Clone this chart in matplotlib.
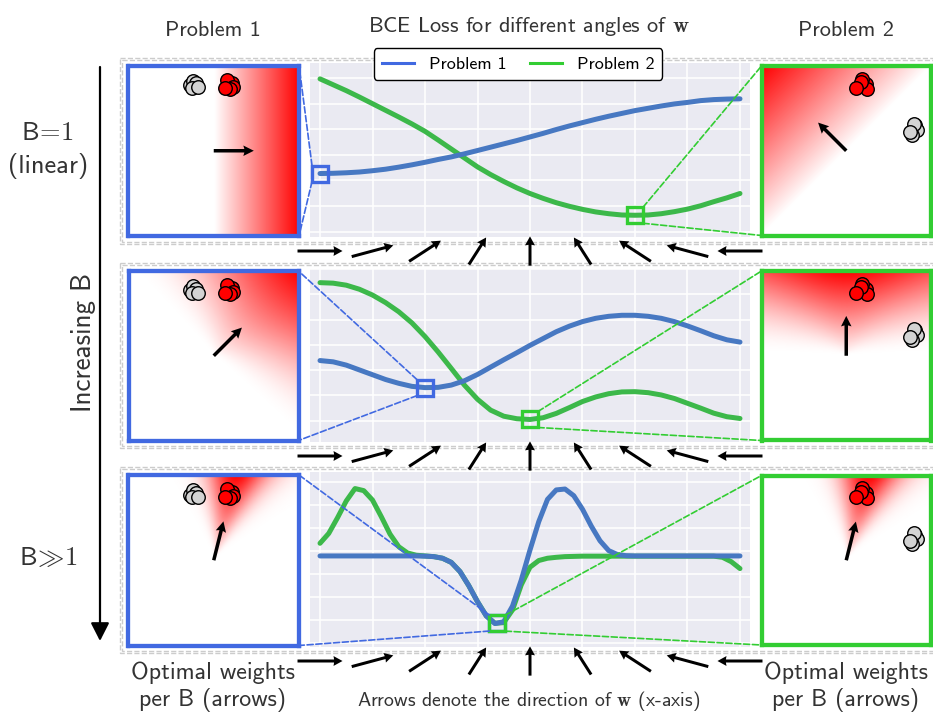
import numpy as np
import matplotlib.pyplot as plt
import matplotlib.transforms as mtransforms
from matplotlib.colors import LinearSegmentedColormap
from matplotlib.lines import Line2D
from matplotlib.patches import Rectangle, ConnectionPatch

plt.rcParams['font.family'] = 'cmss10'
plt.rcParams['mathtext.fontset'] = 'cm'
plt.rcParams['axes.unicode_minus'] = False

W, H = 933, 713

# ---- data ----
# x axis of the loss plots: angle of w in degrees (ticks = arrows below each plot)
tick_angles = [0, 22.5, 45, 67.5, 90, 112.5, 135, 157.5, 180]
angles_mid = np.linspace(0, 180, 33)
angles_fine = np.linspace(0, 180, 49)

# BCE loss (arbitrary units, one unit = one grid line)
loss_p1_b1 = [2.27, 2.28, 2.30, 2.33, 2.38, 2.44, 2.52, 2.61, 2.71, 2.82, 2.92,
              3.04, 3.17, 3.30, 3.43, 3.56, 3.70, 3.84, 3.99, 4.13, 4.26, 4.39,
              4.51, 4.62, 4.73, 4.82, 4.91, 4.99, 5.05, 5.12, 5.16, 5.18, 5.19]
loss_p2_b1 = [5.97, 5.74, 5.51, 5.26, 5.00, 4.74, 4.48, 4.21, 3.92, 3.58, 3.23,
              2.88, 2.53, 2.23, 1.96, 1.71, 1.49, 1.30, 1.13, 0.99, 0.87, 0.77,
              0.70, 0.65, 0.64, 0.65, 0.70, 0.78, 0.88, 1.01, 1.17, 1.32, 1.49]
loss_p1_b2 = [2.38, 2.33, 2.20, 2.01, 1.82, 1.63, 1.48, 1.36, 1.31, 1.32, 1.41,
              1.58, 1.83, 2.12, 2.41, 2.69, 2.98, 3.25, 3.52, 3.74, 3.92, 4.05,
              4.13, 4.17, 4.17, 4.13, 4.05, 3.92, 3.75, 3.56, 3.36, 3.20, 3.11]
loss_p2_b2 = [5.46, 5.44, 5.36, 5.20, 4.97, 4.67, 4.31, 3.87, 3.33, 2.72, 2.07,
              1.41, 0.85, 0.42, 0.18, 0.08, 0.05, 0.12, 0.29, 0.52, 0.76, 0.94,
              1.07, 1.14, 1.15, 1.11, 1.02, 0.88, 0.69, 0.50, 0.30, 0.16, 0.09]
loss_p1_bbig = [3.77, 3.77, 3.77, 3.77, 3.77, 3.77, 3.77, 3.77, 3.77, 3.77, 3.77,
                3.77, 3.76, 3.74, 3.67, 3.49, 3.09, 2.48, 1.78, 1.16, 0.83, 0.91,
                1.59, 2.72, 4.03, 5.26, 6.23, 6.64, 6.68, 6.39, 5.80, 5.07, 4.43,
                4.00, 3.83, 3.78, 3.77, 3.77, 3.77, 3.77, 3.77, 3.77, 3.77, 3.77,
                3.77, 3.77, 3.77, 3.77, 3.77]
loss_p2_bbig = [4.32, 4.75, 5.43, 6.16, 6.70, 6.61, 6.20, 5.48, 4.72, 4.17, 3.90,
                3.80, 3.77, 3.74, 3.67, 3.49, 3.09, 2.48, 1.78, 1.17, 0.84, 0.87,
                1.42, 2.51, 3.28, 3.57, 3.67, 3.71, 3.74, 3.75, 3.76, 3.76, 3.76,
                3.76, 3.76, 3.76, 3.76, 3.76, 3.76, 3.76, 3.76, 3.76, 3.76, 3.76,
                3.76, 3.76, 3.71, 3.52, 3.22]

B_values = [1, 2, 20]
w_angle_p1 = [0, 45, 76]
w_angle_p2 = [135, 90, 76]

# toy data points (same in every row)
p1_neg_x = [-0.28, -0.24, -0.21, -0.26, -0.18]
p1_neg_y = [0.77, 0.82, 0.79, 0.74, 0.745]
p1_pos_x = [0.21, 0.16, 0.23, 0.19, 0.13]
p1_pos_y = [0.80, 0.83, 0.75, 0.73, 0.74]
p2_pos_x = [0.23, 0.19, 0.25, 0.17, 0.12]
p2_pos_y = [0.79, 0.85, 0.73, 0.81, 0.745]
p2_neg_x = [0.81, 0.84, 0.78, 0.80, 0.75]
p2_neg_y = [0.30, 0.25, 0.19, 0.32, 0.225]

# ---- style ----
BLUE = '#4169E1'
GREEN = '#32CD32'
BLUE_LINE = '#4778c2'
GREEN_LINE = '#3cb84a'
TXT = '#333333'
white_red = LinearSegmentedColormap.from_list('white_red', ['white', 'red'])

rows_panel = [(65.5, 236), (271, 440.5), (475, 645.5)]
rows_mid = [(63, 237), (269, 442), (472, 647)]
rows_arrow = [251, 456, 661]
rows_frame = [(58, 244), (263, 448), (467, 653)]
ylims = [(-0.21, 6.59), (-0.84, 5.99), (-0.19, 7.42)]
yticks = [range(0, 7), range(0, 7), range(0, 8)]


def fig_rect(x0, y0, x1, y1):
    return [x0 / W, 1 - y1 / H, (x1 - x0) / W, (y1 - y0) / H]


def heat(angle, B):
    g = np.linspace(-1, 1, 301)
    X, Y = np.meshgrid(g, g)
    r = np.hypot(X, Y) + 1e-9
    t = np.deg2rad(angle)
    c = (X * np.cos(t) + Y * np.sin(t)) / r
    h = r * np.clip(c, 0, None) ** B
    return h / h.max()


def draw_panel(ax, angle, B, color, neg, pos):
    ax.imshow(heat(angle, B), cmap=white_red, origin='lower', extent=(-1, 1, -1, 1),
              vmin=0, vmax=1, interpolation='bilinear')
    ax.scatter(neg[0], neg[1], s=95, c='lightgray', edgecolors='k', linewidths=1, zorder=3)
    ax.scatter(pos[0], pos[1], s=95, c='red', edgecolors='k', linewidths=1, zorder=3)
    t = np.deg2rad(angle)
    ax.quiver(0, 0, 0.47 * np.cos(t), 0.47 * np.sin(t), angles='xy', scale_units='xy',
              scale=1, units='dots', width=3.5, headwidth=3, headlength=3,
              headaxislength=2.7, color='k', zorder=4)
    ax.set_xlim(-1, 1)
    ax.set_ylim(-1, 1)
    ax.set_xticks([])
    ax.set_yticks([])
    for s in ax.spines.values():
        s.set_color(color)
        s.set_linewidth(3.1)


fig = plt.figure(figsize=(W / 100, H / 100), dpi=100)

# decoration layer in pixel coordinates
deco = fig.add_axes([0, 0, 1, 1], zorder=-1)
deco.set_xlim(0, W)
deco.set_ylim(H, 0)
deco.axis('off')

for (y0, y1) in rows_frame:
    for d in (0, 2):
        deco.add_patch(Rectangle((120 + d, y0 + d), 830, y1 - y0 - 2 * d, fill=False,
                                 ls='--', lw=1.0, ec='#cccccc'))

deco.annotate('', xy=(100, 641), xytext=(100, 67),
              arrowprops=dict(arrowstyle='-|>,head_length=0.55,head_width=0.28', lw=1.6,
                              color='k', mutation_scale=20, shrinkA=0, shrinkB=0))
deco.text(213, 30, 'Problem 1', ha='center', va='center', fontsize=16, color=TXT)
deco.text(846, 30, 'Problem 2', ha='center', va='center', fontsize=16, color=TXT)
deco.text(529, 26, r'BCE Loss for different angles of $\mathbf{w}$', ha='center',
          va='center', fontsize=16, color=TXT)
deco.text(47, 133, r'B$\!=\!1$', ha='center', va='center', fontsize=19, color=TXT)
deco.text(48, 166, '(linear)', ha='center', va='center', fontsize=19, color=TXT)
deco.text(48, 558, r'B$\!\gg\!1$', ha='center', va='center', fontsize=19, color=TXT)
deco.text(83, 342, 'Increasing B', ha='center', va='center', rotation=90, fontsize=19.5,
          color=TXT)
for xc in (213, 846):
    deco.text(xc, 673, 'Optimal weights', ha='center', va='center', fontsize=17.3, color=TXT)
    deco.text(xc, 700, 'per B (arrows)', ha='center', va='center', fontsize=17.3, color=TXT)
deco.text(529, 701, r'Arrows denote the direction of $\mathbf{w}$ (x-axis)', ha='center',
          va='center', fontsize=14.3, color=TXT)

row_curves = [
    (angles_mid, loss_p1_b1, loss_p2_b1),
    (angles_mid, loss_p1_b2, loss_p2_b2),
    (angles_fine, loss_p1_bbig, loss_p2_bbig),
]

half = 8 / 100  # half size of the min-marker square, inches

for i in range(3):
    py0, py1 = rows_panel[i]
    ax_l = fig.add_axes(fig_rect(128, py0, 299.5, py1))
    draw_panel(ax_l, w_angle_p1[i], B_values[i], BLUE, (p1_neg_x, p1_neg_y), (p1_pos_x, p1_pos_y))
    ax_r = fig.add_axes(fig_rect(761.5, py0, 931, py1))
    draw_panel(ax_r, w_angle_p2[i], B_values[i], GREEN, (p2_neg_x, p2_neg_y), (p2_pos_x, p2_pos_y))

    my0, my1 = rows_mid[i]
    ax = fig.add_axes(fig_rect(310, my0, 750, my1))
    x, y1, y2 = row_curves[i]
    ax.set_facecolor('#EAEAF2')
    ax.plot(x, y2, color=GREEN_LINE, lw=3.6, solid_capstyle='round',
            solid_joinstyle='round', zorder=2)
    ax.plot(x, y1, color=BLUE_LINE, lw=3.6, solid_capstyle='round',
            solid_joinstyle='round', zorder=2.1)
    ax.set_xlim(-4.29, 184.29)
    ax.set_ylim(ylims[i])
    ax.set_xticks(tick_angles)
    ax.set_yticks(list(yticks[i]))
    ax.grid(True, color='white', lw=1.1)
    ax.set_axisbelow(True)
    ax.tick_params(length=0, labelbottom=False, labelleft=False)
    for s in ax.spines.values():
        s.set_visible(False)

    # minimum markers + zoom lines to the panels
    for ang, ys, col, side_ax, z in ((w_angle_p1[i], y1, BLUE, ax_l, 5),
                                      (w_angle_p2[i], y2, GREEN, ax_r, 6)):
        yv = np.interp(ang, x, ys)
        ax.plot(ang, yv, 's', ms=11.5, mfc='none', mec=col, mew=2.4, zorder=z, clip_on=False)
        sx = -half if col == BLUE else half
        cx = 1 if col == BLUE else 0
        for dy, corner in ((half, 1), (-half, 0)):
            tr = ax.transData + mtransforms.ScaledTranslation(sx, dy, fig.dpi_scale_trans)
            con = ConnectionPatch(xyA=(ang, yv), coordsA=tr, xyB=(cx, corner),
                                  coordsB=side_ax.transAxes, color=col, lw=1.2, ls='--')
            fig.add_artist(con)

    # arrows below the plot that stand for the x-axis tick labels
    ya = rows_arrow[i]
    ax_a = fig.add_axes(fig_rect(310, ya - 20, 750, ya + 20))
    ax_a.set_xlim(-4.29, 184.29)
    ax_a.set_ylim(-1, 1)
    ax_a.axis('off')
    t = np.deg2rad(tick_angles)
    ax_a.quiver(tick_angles, np.zeros(len(tick_angles)), 45 * np.cos(t), 0.65 * 45 * np.sin(t),
                pivot='middle', angles='uv', scale_units='dots', scale=1, units='dots',
                width=3, headwidth=3.3, headlength=3, headaxislength=2.8, color='k',
                clip_on=False)

    if i == 0:
        handles = [Line2D([], [], color=BLUE, lw=2.2, label='Problem 1'),
                   Line2D([], [], color=GREEN, lw=2.2, label='Problem 2')]
        ax.legend(handles=handles, loc='center', bbox_to_anchor=(518 / W, 1 - 64 / H),
                  bbox_transform=fig.transFigure, ncol=2, fontsize=13, frameon=True,
                  edgecolor='black', framealpha=1, fancybox=True, handlelength=1.8,
                  columnspacing=1.3, borderpad=0.45)

fig.savefig('out.png', dpi=100, facecolor='white')
